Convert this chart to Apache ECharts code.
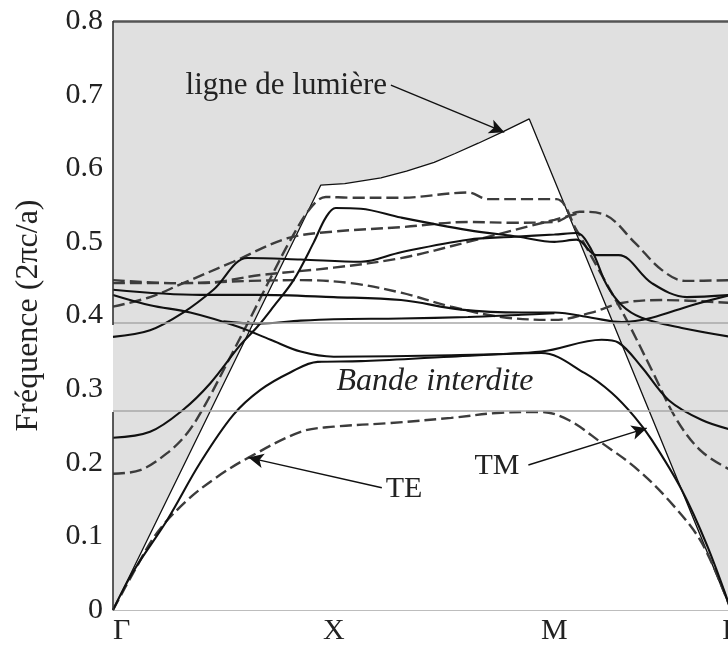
<!DOCTYPE html>
<html>
<head>
<meta charset="utf-8">
<script src="https://cdn.jsdelivr.net/npm/echarts@6/dist/echarts.min.js"></script>
<style>
  html, body { margin: 0; padding: 0; background: #fff; }
  #chart { width: 728px; height: 645px; }
</style>
</head>
<body>
<div id="chart"></div>
<script>
// Path through the Brillouin zone: Γ → X → M → Γ (reduced wave-vector coordinate)
const kTicks = [0, 1, 2, 2.8];
const kLabels = ['Γ', 'X', 'M', 'Γ'];

// Frequency axis (2πc/a)
const freqMin = 0;
const freqMax = 0.8;
const freqStep = 0.1;

// Photonic band gap limits
const gapLow = 0.269;
const gapHigh = 0.387;

// Light line ω = c|k|
const lightLine = [
  [0, 0], [0.941, 0.577], [1.05, 0.579], [1.214, 0.587], [1.33, 0.596],
  [1.455, 0.608], [1.55, 0.62], [1.655, 0.634], [1.77, 0.65], [1.886, 0.667], [2.8, 0]
];

// TE bands (dashed)
const te1 = [[0,0],[0.091,0.05],[0.2,0.105],[0.336,0.149],[0.473,0.181],[0.614,0.207],[0.85,0.242],[1.0,0.249],[1.259,0.254],[1.532,0.261],[1.759,0.268],[1.941,0.269],[2.064,0.258],[2.214,0.227],[2.364,0.194],[2.518,0.149],[2.668,0.091],[2.8,0]];
const te2 = [[0,0.185],[0.123,0.19],[0.245,0.213],[0.336,0.24],[0.418,0.279],[0.532,0.344],[0.623,0.397],[0.714,0.451],[0.805,0.503],[0.895,0.546],[0.964,0.561],[1.077,0.56],[1.305,0.56],[1.609,0.567],[1.7,0.558],[1.895,0.558],[2.009,0.558],[2.1,0.516],[2.214,0.455],[2.327,0.394],[2.441,0.326],[2.555,0.258],[2.668,0.215],[2.8,0.19]];
const te3 = [[0,0.412],[0.168,0.425],[0.318,0.444],[0.545,0.473],[0.791,0.505],[1.0,0.514],[1.305,0.52],[1.609,0.527],[1.818,0.526],[2.0,0.527],[2.114,0.541],[2.227,0.537],[2.364,0.499],[2.486,0.462],[2.591,0.447],[2.8,0.448]];
const te4 = [[0,0.448],[0.291,0.444],[0.623,0.447],[0.85,0.448],[1.077,0.444],[1.305,0.431],[1.532,0.412],[1.759,0.398],[2.0,0.394],[2.168,0.404],[2.305,0.417],[2.486,0.421],[2.8,0.417]];
const te5 = [[0,0.444],[0.395,0.444],[0.668,0.455],[1.0,0.465],[1.305,0.478],[1.609,0.5],[1.895,0.522],[2.0,0.53],[2.1,0.538]];

// TM bands (solid)
const tm1 = [[0,0],[0.091,0.052],[0.245,0.122],[0.395,0.2],[0.545,0.265],[0.668,0.299],[0.805,0.323],[0.927,0.337],[1.123,0.338],[1.532,0.344],[1.941,0.349],[2.136,0.322],[2.259,0.295],[2.364,0.262],[2.441,0.231],[2.577,0.163],[2.691,0.088],[2.8,0]];
const tm2 = [[0,0.234],[0.168,0.242],[0.318,0.272],[0.441,0.308],[0.577,0.36],[0.655,0.385],[0.727,0.412],[0.818,0.448],[0.909,0.499],[0.964,0.533],[1.009,0.546],[1.123,0.545],[1.305,0.533],[1.609,0.516],[1.836,0.507],[2.0,0.5],[2.1,0.503],[2.191,0.482],[2.291,0.482],[2.441,0.444],[2.6,0.425],[2.8,0.428]];
const tm3 = [[0,0.371],[0.168,0.38],[0.318,0.404],[0.455,0.435],[0.609,0.478],[0.85,0.476],[1.123,0.473],[1.305,0.486],[1.609,0.503],[1.818,0.507],[2.0,0.51],[2.1,0.512],[2.168,0.489],[2.236,0.442],[2.305,0.414],[2.395,0.397],[2.577,0.383],[2.8,0.371]];
const tm4 = [[0,0.428],[0.168,0.414],[0.35,0.404],[0.564,0.385],[0.714,0.367],[0.85,0.351],[1.0,0.344],[1.532,0.346],[1.941,0.351],[2.214,0.367],[2.291,0.363],[2.395,0.33],[2.518,0.285],[2.668,0.258],[2.8,0.245]];
const tm5 = [[0,0.435],[0.395,0.428],[0.655,0.428],[1.0,0.425],[1.305,0.421],[1.577,0.408],[1.85,0.404],[2.0,0.404],[2.168,0.397],[2.305,0.391],[2.441,0.397],[2.623,0.414],[2.8,0.428]];
const tm6 = [[0.5,0.392],[0.655,0.389],[0.85,0.393],[1.0,0.395],[1.305,0.396],[1.609,0.398],[1.85,0.401],[2.0,0.403]];

const teBands = [te1, te2, te3, te4, te5];
const tmBands = [tm1, tm2, tm3, tm4, tm5, tm6];

// Annotation arrows: [from, to] in (k, frequency)
const arrowLight = [[1.259, 0.713], [1.773, 0.649]];
const arrowTE = [[1.218, 0.166], [0.614, 0.207]];
const arrowTM = [[1.882, 0.197], [2.418, 0.247]];

const SERIF = '"Liberation Serif", "Times New Roman", serif';
const GREY = '#e0e0e0';

const chart = echarts.init(document.getElementById('chart'), null, { renderer: 'canvas' });

function bandSeries(data, dashed) {
  return {
    type: 'line',
    data: data,
    smooth: 0.35,
    symbol: 'none',
    silent: true,
    z: 4,
    lineStyle: dashed
      ? { color: '#3c3c3c', width: 2.4, type: [12, 5] }
      : { color: '#111', width: 2.1 }
  };
}

function arrowItem(a) {
  return [
    { coord: a[0], symbol: 'none' },
    { coord: a[1], symbol: 'arrow', symbolSize: [11, 15] }
  ];
}

const option = {
  animation: false,
  backgroundColor: '#fff',
  grid: {
    left: 113, top: 21, bottom: 35, right: -3,
    outerBoundsMode: 'none',
    containLabel: false,
    show: true, backgroundColor: GREY, borderWidth: 0
  },
  xAxis: {
    type: 'value',
    min: kTicks[0],
    max: kTicks[kTicks.length - 1],
    splitLine: { show: false },
    axisLine: { show: true, lineStyle: { color: '#bdbdbd', width: 2 } },
    axisTick: {
      show: true, inside: true, length: 6,
      customValues: kTicks.slice(1, 3),
      lineStyle: { color: '#9a9a9a', width: 1.5 }
    },
    axisLabel: {
      customValues: kTicks,
      formatter: function (v) {
        const i = kTicks.indexOf(v);
        return i >= 0 ? kLabels[i] : '';
      },
      alignMinLabel: 'left',
      fontFamily: SERIF, fontSize: 30, color: '#222', margin: 6
    }
  },
  yAxis: {
    type: 'value',
    min: freqMin, max: freqMax, interval: freqStep,
    splitLine: { show: false },
    axisLine: { show: false },
    axisTick: { show: false },
    axisLabel: {
      formatter: function (v) { return v === 0 ? '0' : v.toFixed(1); },
      fontFamily: SERIF, fontSize: 30, color: '#222', margin: 10
    },
    name: 'Fréquence (2πc/a)',
    nameLocation: 'middle',
    nameGap: 68,
    nameTextStyle: { fontFamily: SERIF, fontSize: 32, color: '#222' }
  },
  graphic: [
    { type: 'text', x: 387, y: 86, z: 10,
      style: { text: 'ligne de lumière', font: '31px ' + SERIF, fill: '#222', align: 'right', verticalAlign: 'middle' } },
    { type: 'text', x: 435, y: 382, z: 10,
      style: { text: 'Bande interdite', font: 'italic 32px ' + SERIF, fill: '#222', align: 'center', verticalAlign: 'middle' } },
    { type: 'text', x: 404, y: 489, z: 10,
      style: { text: 'TE', font: '30px ' + SERIF, fill: '#222', align: 'center', verticalAlign: 'middle' } },
    { type: 'text', x: 497, y: 466, z: 10,
      style: { text: 'TM', font: '30px ' + SERIF, fill: '#222', align: 'center', verticalAlign: 'middle' } }
  ],
  series: [
    // white region below the light line
    {
      type: 'line', data: lightLine, symbol: 'none', silent: true, z: 1,
      lineStyle: { width: 0 },
      areaStyle: { color: '#fff', opacity: 1, origin: 'start' }
    },
    // band gap, frame lines
    {
      type: 'line', data: [], z: 2, silent: true,
      markArea: {
        silent: true,
        itemStyle: { color: GREY, borderWidth: 0 },
        data: [[{ yAxis: gapLow }, { yAxis: gapHigh }]]
      },
      markLine: {
        silent: true, symbol: 'none', label: { show: false },
        lineStyle: { color: '#a8a8a8', width: 1.5, type: 'solid' },
        data: [
          { yAxis: gapLow },
          { yAxis: gapHigh },
          [{ coord: [kTicks[0], freqMax], lineStyle: { color: '#555', width: 2.5 } }, { coord: [kTicks[3], freqMax] }],
          [{ coord: [kTicks[0], freqMin], lineStyle: { color: '#333', width: 1.6 } }, { coord: [kTicks[0], gapLow] }],
          [{ coord: [kTicks[0], gapHigh], lineStyle: { color: '#333', width: 1.6 } }, { coord: [kTicks[0], freqMax] }]
        ]
      }
    },
    // light line
    {
      type: 'line', data: lightLine, symbol: 'none', silent: true, z: 3,
      lineStyle: { color: '#111', width: 1.3 }
    }
  ]
    .concat(teBands.map(b => bandSeries(b, true)))
    .concat(tmBands.map(b => bandSeries(b, false)))
    .concat([{
      type: 'line', data: [], z: 6, silent: true,
      markLine: {
        silent: true, label: { show: false },
        lineStyle: { color: '#111', width: 1.4, type: 'solid' },
        data: [arrowItem(arrowLight), arrowItem(arrowTE), arrowItem(arrowTM)]
      }
    }])
};

chart.setOption(option);
</script>
</body>
</html>
